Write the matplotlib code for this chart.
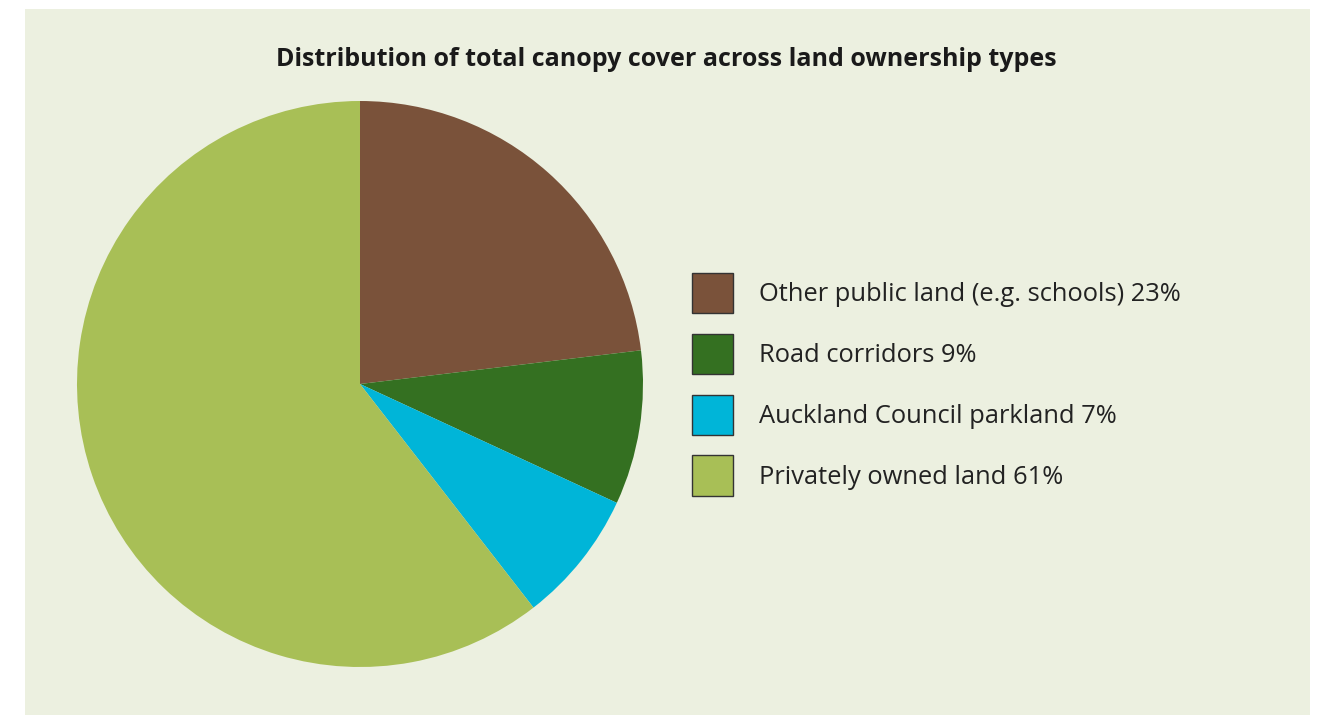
import matplotlib.pyplot as plt
from matplotlib.patches import Rectangle, Patch

# data (slice sizes as drawn; legend shows rounded figures)
labels = ['Other public land (e.g. schools) 23%', 'Road corridors 9%',
          'Auckland Council parkland 7%', 'Privately owned land 61%']
shares = [23.1, 8.8, 7.6, 60.5]
colours = ['#7a523a', '#347021', '#00b5d8', '#a8bf56']

W, H = 1326, 715
fig = plt.figure(figsize=(W / 100, H / 100), dpi=100, facecolor='white')

# panel background
fig.patches.append(Rectangle((25 / W, 0), 1285 / W, (H - 9) / H,
                             transform=fig.transFigure, facecolor='#ecf0e0',
                             edgecolor='none', zorder=-5))

fig.text(666 / W, 1 - 60 / H, 'Distribution of total canopy cover across land ownership types',
         ha='center', va='center', fontsize=18, fontweight='bold',
         family='Open Sans', color='#1a1a1a')

# pie
cx, cy, r = 360, 384, 283
ax = fig.add_axes([(cx - r) / W, (H - cy - r) / H, 2 * r / W, 2 * r / H])
ax.pie(shares, colors=colours, startangle=90, counterclock=False,
       radius=1, wedgeprops=dict(linewidth=0))
ax.set_xlim(-1, 1)
ax.set_ylim(-1, 1)
ax.axis('off')

handles = [Patch(facecolor=c, edgecolor='#333333', linewidth=1) for c in colours]
fig.legend(handles, labels, loc='upper left', bbox_to_anchor=(692 / W, 1 - 273 / H),
           frameon=False, borderpad=0, borderaxespad=0,
           prop=dict(family='Open Sans', size=18.4),
           handlelength=1.6, handleheight=2.05, labelspacing=0.8,
           handletextpad=1.04, labelcolor='#222222')

fig.savefig('out.png', dpi=100)
